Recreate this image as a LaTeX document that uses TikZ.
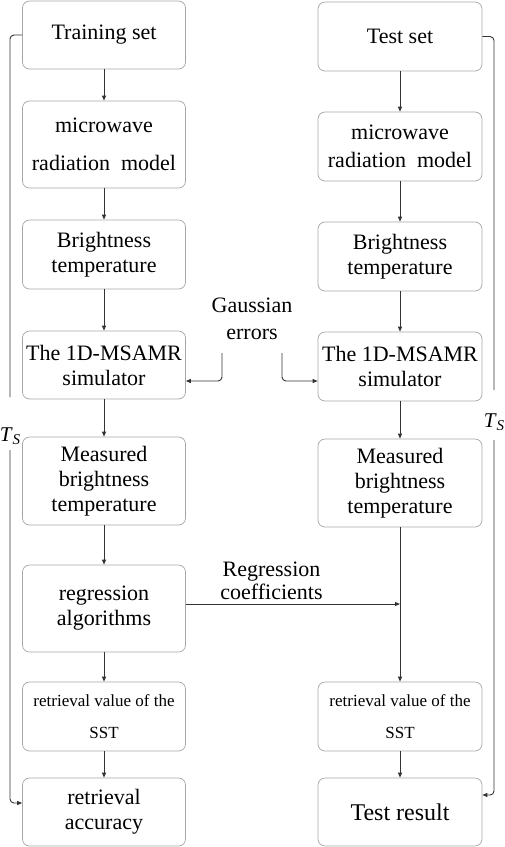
\documentclass[tikz,border=0pt]{standalone}
\usepackage{fontspec}
\setmainfont{Liberation Serif}
\usetikzlibrary{
  arrows.meta,
  positioning
}

\begin{document}
\begin{tikzpicture}[
      x=1pt,y=-1pt,
      box/.style={
         rectangle,
         rounded corners=7pt,
         draw=black!35,
         line width=0.7pt,
         minimum width=163pt,
         inner sep=2pt,
         align=center,
         font=\fontsize{22}{25}\selectfont
      },
      small box/.style={
         box,
         font=\fontsize{17}{25}\selectfont
      },
      label text/.style={
         align=center,
         inner sep=0pt,
         font=\fontsize{22}{25}\selectfont
      },
      >={Triangle[length=5pt,width=4pt]},
      conn/.style={line width=0.9pt,draw=black!80,rounded corners=4pt},
      tip/.style={conn,->},
    ]
    \useasboundingbox (0,0) rectangle (505,847);
    % training column
    \node (trainset) [box, minimum height=68pt] at (104,35) {Training set};
    \node (lmodel) [box, minimum height=87pt] at (104,144.5) {microwave\\[13pt]radiation~ model};
    \node (lbright) [box, minimum height=69pt] at (104,254.5) {Brightness\\temperature};
    \node (lsim) [box, minimum height=68pt] at (104,365) {The 1D-MSAMR\\simulator};
    \node (lmeas) [box, minimum height=88pt] at (104,481) {Measured\\brightness\\temperature};
    \node (regalg) [box, minimum height=87pt] at (104,608.5) {regression\\algorithms};
    \node (lsst) [small box, minimum height=69pt] at (104,716.5) {retrieval value of the\\[7pt]SST};
    \node (acc) [box, minimum height=68pt] at (104,812) {retrieval\\accuracy};
    % test column
    \node (testset) [box, minimum height=69pt, minimum width=164pt] at (400,36.5) {Test set};
    \node (rmodel) [box, minimum height=69pt, minimum width=164pt] at (400,146.5) {microwave\\[3pt]radiation~ model};
    \node (rbright) [box, minimum height=69pt, minimum width=164pt] at (400,256.5) {Brightness\\temperature};
    \node (rsim) [box, minimum height=69pt, minimum width=164pt] at (400,366.5) {The 1D-MSAMR\\simulator};
    \node (rmeas) [box, minimum height=88pt, minimum width=164pt] at (400,483) {Measured\\brightness\\temperature};
    \node (rsst) [small box, minimum height=69pt, minimum width=164pt] at (400,716.5) {retrieval value of the\\[7pt]SST};
    \node (result) [box, minimum height=68pt, minimum width=164pt, font=\fontsize{24}{27}\selectfont] at (400,812) {Test result};
    % labels
    \node (gauss) [label text, font=\fontsize{22}{27}\selectfont] at (252,319) {Gaussian\\errors};
    \node (regcoef) [label text, font=\fontsize{22}{23}\selectfont] at (271.5,581) {Regression\\coefficients};
    \node (tsleft) [inner sep=0pt, font=\fontsize{21}{21}\selectfont] at (10,436) {\textit{T}\raisebox{-3pt}{\fontsize{15}{15}\selectfont\textit{S}}};
    \node (tsright) [inner sep=0pt, font=\fontsize{21}{21}\selectfont] at (494,422) {\textit{T}\raisebox{-3pt}{\fontsize{15}{15}\selectfont\textit{S}}};
    % flow
    \foreach \a/\b in {trainset/lmodel,lmodel/lbright,lbright/lsim,lsim/lmeas,
                       lmeas/regalg,regalg/lsst,lsst/acc,
                       testset/rmodel,rmodel/rbright,rbright/rsim,rsim/rmeas,
                       rmeas/rsst,rsst/result}
       \draw[tip] (\a) -- (\b);
    % gaussian errors
    \coordinate (gleft) at (222,353);
    \coordinate (gright) at (282,353);
    \draw[tip] (gleft) |- ([yshift=-16pt]lsim.east);
    \draw[tip] (gright) |- ([yshift=-14.5pt]rsim.west);
    % regression coefficients
    \coordinate (rc) at ([yshift=4.5pt]regalg.east);
    \draw[tip] (rc) -- (rc -| rmeas.south);
    % T_S feedback
    \coordinate (lbreak1) at (10,397);
    \coordinate (lbreak2) at (10,450);
    \coordinate (rbreak1) at (494,390);
    \coordinate (rbreak2) at (494,440);
    \draw[conn] (trainset.west) -| (lbreak1);
    \draw[tip] (lbreak2) |- ([yshift=9pt]acc.west);
    \draw[conn] (testset.east) -| (rbreak1);
    \draw[tip] (rbreak2) |- ([yshift=17pt]result.east);
\end{tikzpicture}
\end{document}
